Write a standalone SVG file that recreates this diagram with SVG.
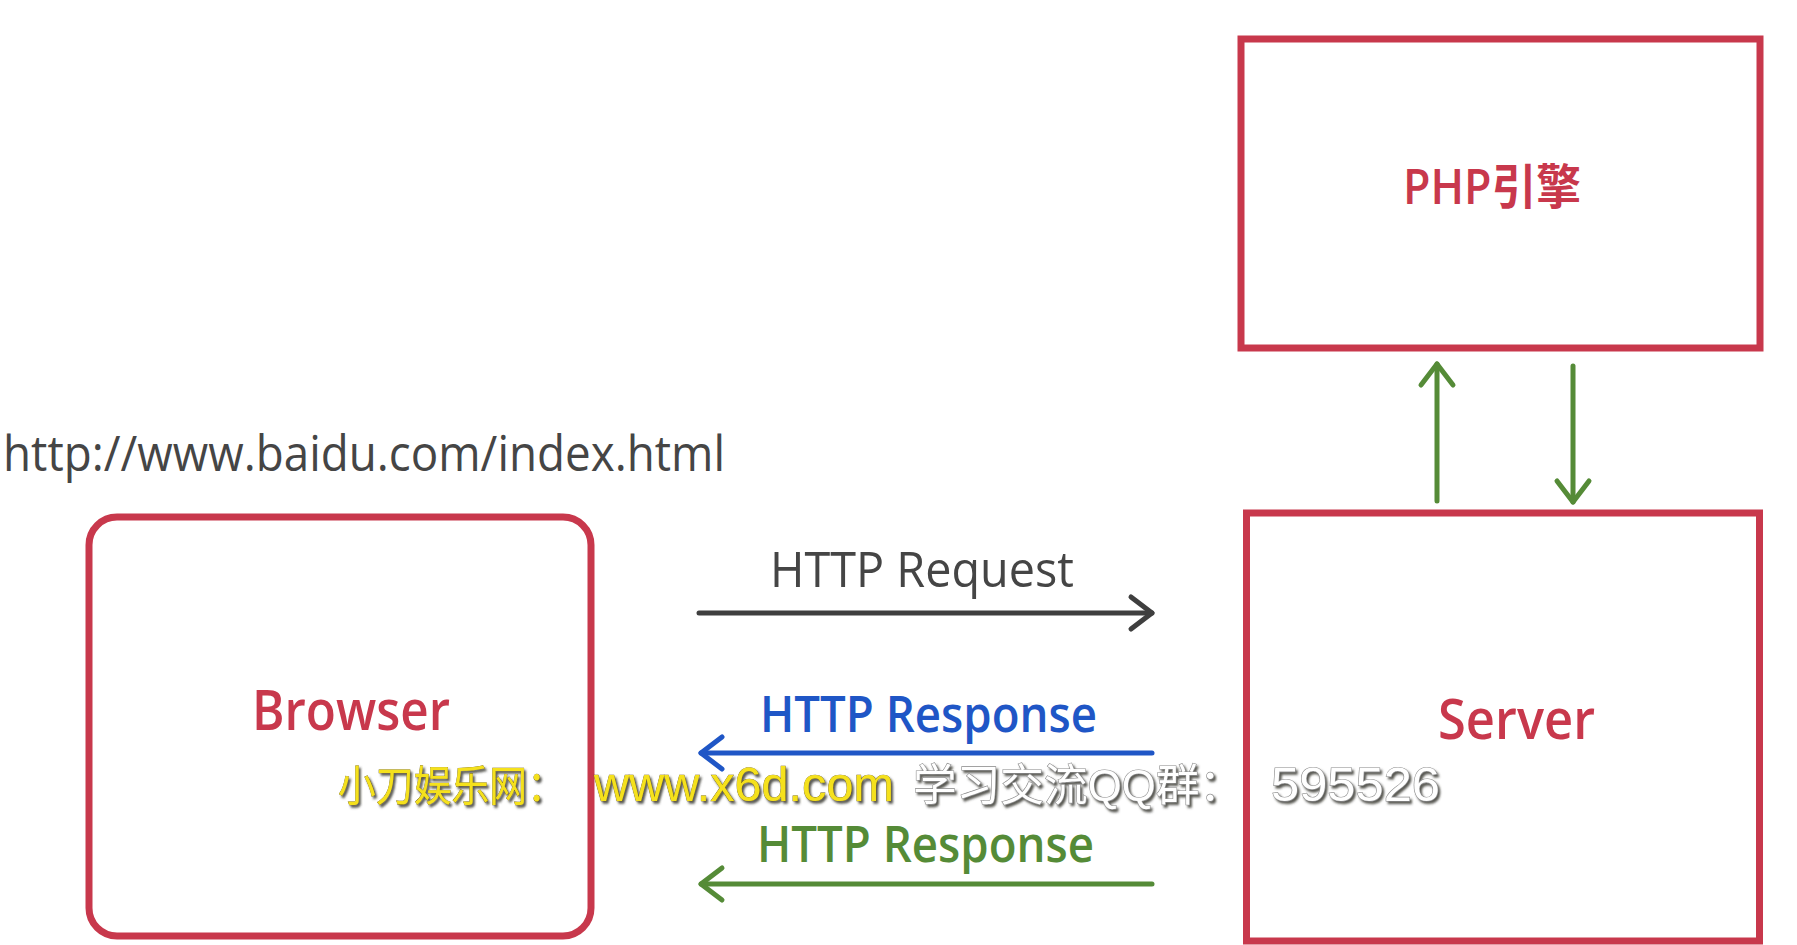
<svg xmlns="http://www.w3.org/2000/svg" width="1797" height="945" viewBox="0 0 1797 945">
  <style>
    .box { fill: #ffffff; stroke: #C8384C; stroke-width: 7; }
    .lbl { font-family: "Open Sans", "Noto Sans", "Noto Sans CJK SC", sans-serif; }
    .node-lbl { fill: #C8384C; font-weight: 600; }
    .conn { fill: none; stroke-width: 5; stroke-linecap: round; }
    .wm { font-family: "Liberation Sans", "Noto Sans CJK SC", sans-serif; font-size: 48px; }
    .wm-y { fill: #F5E11E; stroke: #6b5a00; stroke-width: 0.6; paint-order: stroke; }
    .wm-w { fill: #ffffff; stroke: #8a8a8a; stroke-width: 1.2; paint-order: stroke; }
  </style>
  <defs>
    <marker id="ah-gray" viewBox="-26 -20 30 40" refX="0" refY="0" markerWidth="30" markerHeight="40" markerUnits="userSpaceOnUse" orient="auto">
      <path d="M-21,-16 L0,0 L-21,16" fill="none" stroke="#3F3F3F" stroke-width="5" stroke-linecap="round" stroke-linejoin="round"/>
    </marker>
    <marker id="ah-blue" viewBox="-26 -20 30 40" refX="0" refY="0" markerWidth="30" markerHeight="40" markerUnits="userSpaceOnUse" orient="auto">
      <path d="M-21,-16 L0,0 L-21,16" fill="none" stroke="#1F56C6" stroke-width="5" stroke-linecap="round" stroke-linejoin="round"/>
    </marker>
    <marker id="ah-green" viewBox="-26 -20 30 40" refX="0" refY="0" markerWidth="30" markerHeight="40" markerUnits="userSpaceOnUse" orient="auto">
      <path d="M-21,-16 L0,0 L-21,16" fill="none" stroke="#558B37" stroke-width="5" stroke-linecap="round" stroke-linejoin="round"/>
    </marker>
    <filter id="shadow" x="-5%" y="-20%" width="110%" height="150%">
      <feDropShadow dx="2" dy="2.5" stdDeviation="0.8" flood-color="#3a3a30" flood-opacity="0.85"/>
    </filter>
  </defs>

  <rect width="1797" height="945" fill="#ffffff"/>

  <text id="url" class="lbl" x="3" y="471" font-size="49" font-weight="500" fill="#454545" textLength="722" lengthAdjust="spacingAndGlyphs">http://www.baidu.com/index.html</text>

  <g id="browser">
    <rect class="box" x="89" y="517" width="502" height="419" rx="28" ry="28" stroke-width="6"/>
    <text class="lbl node-lbl" x="252" y="730" font-size="56" textLength="198" lengthAdjust="spacingAndGlyphs">Browser</text>
  </g>

  <g id="php">
    <rect class="box" x="1241" y="39" width="519" height="309"/>
    <text class="lbl node-lbl" x="1403" y="204" font-size="48" textLength="178" lengthAdjust="spacingAndGlyphs">PHP引擎</text>
  </g>

  <g id="server">
    <rect class="box" x="1246.5" y="513" width="513" height="428"/>
    <text class="lbl node-lbl" x="1438" y="739" font-size="56" textLength="157" lengthAdjust="spacingAndGlyphs">Server</text>
  </g>

  <g id="connectors">
    <line class="conn" x1="699" y1="613" x2="1152" y2="613" stroke="#3F3F3F" marker-end="url(#ah-gray)"/>
    <text class="lbl" x="770" y="587" font-size="50" font-weight="500" fill="#454545" textLength="304" lengthAdjust="spacingAndGlyphs">HTTP Request</text>

    <line class="conn" x1="1152" y1="753" x2="701" y2="753" stroke="#1F56C6" marker-end="url(#ah-blue)"/>
    <text class="lbl" x="760" y="732" font-size="50" fill="#1F56C6" font-weight="600" textLength="337" lengthAdjust="spacingAndGlyphs">HTTP Response</text>

    <line class="conn" x1="1152" y1="884" x2="701" y2="884" stroke="#558B37" marker-end="url(#ah-green)"/>
    <text class="lbl" x="757" y="862" font-size="50" fill="#558B37" font-weight="600" textLength="337" lengthAdjust="spacingAndGlyphs">HTTP Response</text>

    <line class="conn" x1="1437" y1="501" x2="1437" y2="364" stroke="#558B37" marker-end="url(#ah-green)"/>
    <line class="conn" x1="1573" y1="366" x2="1573" y2="502" stroke="#558B37" marker-end="url(#ah-green)"/>
  </g>

  <g id="watermark" class="wm" filter="url(#shadow)">
    <text y="801"><tspan class="wm-y" x="338" font-size="42" textLength="227" lengthAdjust="spacingAndGlyphs">小刀娱乐网：</tspan><tspan class="wm-y" x="594" textLength="300" lengthAdjust="spacingAndGlyphs">www.x6d.com</tspan><tspan class="wm-w" x="913" font-size="44" textLength="330" lengthAdjust="spacingAndGlyphs">学习交流QQ群：</tspan><tspan class="wm-w" x="1271" textLength="169" lengthAdjust="spacingAndGlyphs">595526</tspan></text>
  </g>
</svg>
